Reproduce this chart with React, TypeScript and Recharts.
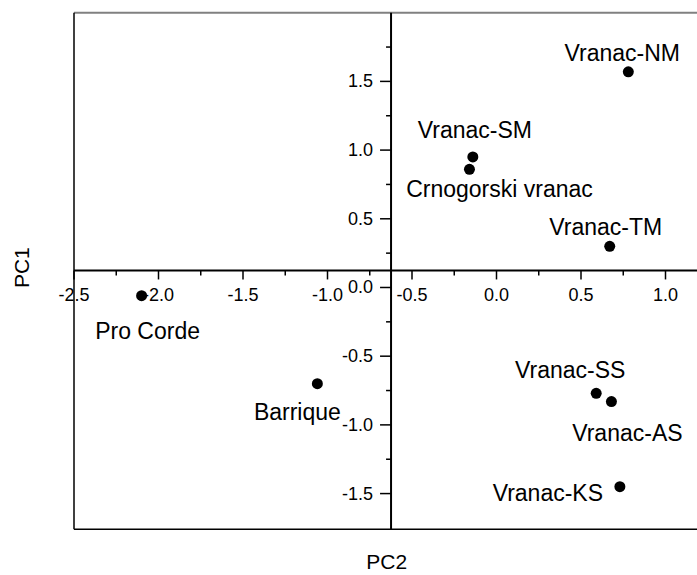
import {
  ScatterChart,
  Scatter,
  XAxis,
  YAxis,
  ReferenceLine,
  ReferenceDot,
} from "recharts";

// PCA scores
const sampleNames = [
  "Vranac-NM",
  "Vranac-SM",
  "Crnogorski vranac",
  "Vranac-TM",
  "Pro Corde",
  "Barrique",
  "Vranac-SS",
  "Vranac-AS",
  "Vranac-KS",
];
const pc2Values = [0.78, -0.14, -0.16, 0.67, -2.1, -1.06, 0.59, 0.68, 0.73];
const pc1Values = [1.57, 0.95, 0.86, 0.3, -0.06, -0.7, -0.77, -0.83, -1.45];

const xMajorTicks = [-2.5, -2.0, -1.5, -1.0, -0.5, 0.0, 0.5, 1.0];
const xMinorTicks = [-2.25, -1.75, -1.25, -0.75, -0.25, 0.25, 0.75];
const yMajorTicks = [-1.5, -1.0, -0.5, 0.0, 0.5, 1.0, 1.5];
const yMinorTicks = [-1.25, -0.75, -0.25, 0.25, 0.75, 1.25, 1.75];

const xDomain: [number, number] = [-2.5, 1.2];
const yDomain: [number, number] = [-1.76, 2.0];
// where the two axes cross each other
const axisCrossX = -0.624;
const axisCrossY = 0.124;

const data = sampleNames.map((name, i) => ({
  name,
  x: pc2Values[i],
  y: pc1Values[i],
}));

// label placement relative to the dot (px)
const labelOffsets: Record<string, [number, number]> = {
  "Vranac-NM": [-6, -19],
  "Vranac-SM": [2, -27],
  "Crnogorski vranac": [30, 20],
  "Vranac-TM": [-4, -19],
  "Pro Corde": [6, 35],
  Barrique: [-20, 28],
  "Vranac-SS": [-26, -23],
  "Vranac-AS": [16, 31],
  "Vranac-KS": [-72, 6],
};

const FONT = "Arial, 'Liberation Sans', sans-serif";

const fmt = (v: number) => v.toFixed(1);

const PointShape = (props: any) => {
  const { cx, cy, payload } = props;
  const [dx, dy] = labelOffsets[payload.name] || [0, -20];
  return (
    <g>
      <circle cx={cx} cy={cy} r={5.5} fill="#000" />
      <text
        x={cx + dx}
        y={cy + dy}
        textAnchor="middle"
        dominantBaseline="central"
        fontFamily={FONT}
        fontSize={23}
        fill="#000"
      >
        {payload.name}
      </text>
    </g>
  );
};

const xTick = (value: number, major: boolean) => (p: any) => (
  <g>
    <line
      x1={p.cx}
      y1={p.cy}
      x2={p.cx}
      y2={p.cy + (major ? 9 : 5)}
      stroke="#000"
      strokeWidth={1.5}
    />
    {major && (
      <text
        x={p.cx}
        y={p.cy + 25}
        textAnchor="middle"
        dominantBaseline="central"
        fontFamily={FONT}
        fontSize={18}
        fill="#000"
      >
        {fmt(value)}
      </text>
    )}
  </g>
);

const yTick = (value: number, major: boolean) => (p: any) => (
  <g>
    <line
      x1={p.cx}
      y1={p.cy}
      x2={p.cx - (major ? 11 : 5)}
      y2={p.cy}
      stroke="#000"
      strokeWidth={1.5}
    />
    {major && (
      <text
        x={p.cx - 18}
        y={p.cy}
        textAnchor="end"
        dominantBaseline="central"
        fontFamily={FONT}
        fontSize={18}
        fill="#000"
      >
        {fmt(value)}
      </text>
    )}
  </g>
);

const xTitle = (props: any) => {
  const vb = props.viewBox || { x: 66, y: 521, width: 625, height: 46 };
  return (
    <text
      x={vb.x + vb.width / 2}
      y={vb.y + 32}
      textAnchor="middle"
      dominantBaseline="central"
      fontFamily={FONT}
      fontSize={21}
      fill="#000"
    >
      PC2
    </text>
  );
};

const yTitle = (props: any) => {
  const vb = props.viewBox || { x: 0, y: 5, width: 66, height: 517 };
  const cx = vb.x + 14;
  const cy = vb.y + 255;
  return (
    <text
      x={cx}
      y={cy}
      transform={`rotate(-90 ${cx} ${cy})`}
      textAnchor="middle"
      dominantBaseline="central"
      fontFamily={FONT}
      fontSize={21}
      fill="#000"
    >
      PC1
    </text>
  );
};

export default function App() {
  return (
    <div
      style={{
        position: "fixed",
        left: 0,
        top: 0,
        width: 697,
        height: 575,
        overflow: "hidden",
        background: "#fff",
      }}
    >
      <div style={{ position: "absolute", left: 8, top: 8 }}>
        <ScatterChart
          width={700}
          height={567}
          margin={{ top: 4.7, right: 8.7, left: 0, bottom: 0 }}
        >
          <XAxis
            type="number"
            dataKey="x"
            domain={xDomain}
            allowDataOverflow
            height={45.7}
            axisLine={false}
            tickLine={false}
            tick={false}
            label={xTitle}
          />
          <YAxis
            type="number"
            dataKey="y"
            domain={yDomain}
            allowDataOverflow
            width={66}
            axisLine={false}
            tickLine={false}
            tick={false}
            label={yTitle}
          />

          {/* frame */}
          <ReferenceLine y={yDomain[1]} stroke="#808080" strokeWidth={2} />
          <ReferenceLine y={yDomain[0]} stroke="#000" strokeWidth={1.5} />
          <ReferenceLine x={xDomain[0]} stroke="#000" strokeWidth={1.5} />
          <ReferenceLine x={xDomain[1]} stroke="#000" strokeWidth={1.5} />

          {/* crossing axes */}
          <ReferenceLine y={axisCrossY} stroke="#000" strokeWidth={2} />
          <ReferenceLine x={axisCrossX} stroke="#000" strokeWidth={2} />

          {xMajorTicks.map((v) => (
            <ReferenceDot key={`xM${v}`} x={v} y={axisCrossY} ifOverflow="visible" shape={xTick(v, true)} />
          ))}
          {xMinorTicks.map((v) => (
            <ReferenceDot key={`xm${v}`} x={v} y={axisCrossY} ifOverflow="visible" shape={xTick(v, false)} />
          ))}
          {yMajorTicks.map((v) => (
            <ReferenceDot key={`yM${v}`} x={axisCrossX} y={v} ifOverflow="visible" shape={yTick(v, true)} />
          ))}
          {yMinorTicks.map((v) => (
            <ReferenceDot key={`ym${v}`} x={axisCrossX} y={v} ifOverflow="visible" shape={yTick(v, false)} />
          ))}

          <Scatter data={data} shape={PointShape} isAnimationActive={false} />
        </ScatterChart>
      </div>
    </div>
  );
}
